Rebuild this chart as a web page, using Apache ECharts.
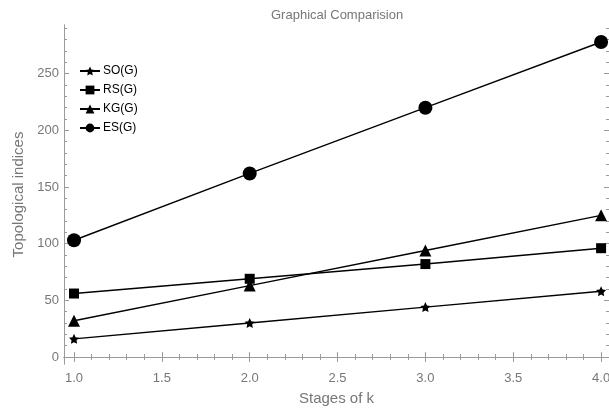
<!DOCTYPE html>
<html>
<head>
<meta charset="utf-8">
<script src="https://cdn.jsdelivr.net/npm/echarts@6/dist/echarts.min.js"></script>
<style>
  html, body { margin: 0; padding: 0; background: #fff; }
  #main { width: 609px; height: 409px; }
</style>
</head>
<body>
<div id="main"></div>
<script>
// 数据
var stages = [1, 2, 3, 4]
var soValues = [16, 30, 44, 58]
var rsValues = [56, 69, 82, 96]
var kgValues = [32, 63, 94, 125]
var esValues = [103, 162, 220, 278]

// 刻度
var xMajor = [1.0, 1.5, 2.0, 2.5, 3.0, 3.5, 4.0]
var xMinor = [1.1, 1.2, 1.3, 1.4, 1.6, 1.7, 1.8, 1.9, 2.1, 2.2, 2.3, 2.4, 2.6, 2.7, 2.8, 2.9,
  3.1, 3.2, 3.3, 3.4, 3.6, 3.7, 3.8, 3.9]
var yMajor = [0, 50, 100, 150, 200, 250]
var yMinor = [10, 20, 30, 40, 60, 70, 80, 90, 110, 120, 130, 140, 160, 170, 180, 190,
  210, 220, 230, 240, 260, 270, 280, 290]

var xMin = 0.943, xMax = 4.045
var yMin = -6.2, yMax = 293

var starPath = 'path://M0,-10 L2.94,-4.05 9.51,-3.09 4.76,1.55 5.88,8.09 0,5 -5.88,8.09 -4.76,1.55 -9.51,-3.09 -2.94,-4.05 Z'
var axisGray = '#9a9a9a'
var textGray = '#777'

function pairs(ys) {
  return stages.map(function (x, i) { return [x, ys[i]] })
}

// 坐标轴：主刻度 / 次刻度，四边框
function makeAxis(pos, vals, len, labels, min, max, extra) {
  var ax = {
    type: 'value',
    position: pos,
    min: min,
    max: max,
    axisLine: { show: true, lineStyle: { color: axisGray, width: 1 } },
    axisTick: { show: true, inside: true, length: len, customValues: vals, lineStyle: { color: axisGray } },
    axisLabel: labels ? {
      show: true, customValues: vals, color: textGray, fontSize: 13,
      margin: pos === 'bottom' ? 8 : 5,
      fontFamily: 'Liberation Sans',
      formatter: function (v) { return pos === 'bottom' ? v.toFixed(1) : String(v) }
    } : { show: false },
    splitLine: { show: false }
  }
  return Object.assign(ax, extra || {})
}

var myChart = echarts.init(document.getElementById('main'))
var option = {
  animation: false,
  title: {
    text: 'Graphical Comparision',
    left: 266, top: 4,
    textStyle: { color: textGray, fontSize: 13, fontWeight: 'normal', fontFamily: 'Liberation Sans' }
  },
  grid: { left: 64, right: 0, top: 25, bottom: 45, containLabel: false, outerBoundsMode: 'none' },
  legend: {
    orient: 'vertical',
    left: 74, top: 60,
    itemWidth: 20, itemHeight: 11, itemGap: 7,
    textStyle: { color: '#000', fontSize: 12, fontFamily: 'Liberation Sans', padding: [0, 0, 0, -2] },
    data: ['SO(G)', 'RS(G)', 'KG(G)', 'ES(G)']
  },
  xAxis: [
    makeAxis('bottom', xMajor, 5, true, xMin, xMax, {
      name: 'Stages of k', nameLocation: 'middle', nameGap: 27,
      nameTextStyle: { color: textGray, fontSize: 15, fontFamily: 'Liberation Sans' }
    }),
    makeAxis('bottom', xMinor, 3, false, xMin, xMax),
    makeAxis('top', xMajor, 5, false, xMin, xMax),
    makeAxis('top', xMinor, 3, false, xMin, xMax)
  ],
  yAxis: [
    makeAxis('left', yMajor, 5, true, yMin, yMax, {
      name: 'Topological indices', nameLocation: 'middle', nameGap: 37,
      nameTextStyle: { color: textGray, fontSize: 15, fontFamily: 'Liberation Sans' }
    }),
    makeAxis('left', yMinor, 3, false, yMin, yMax),
    makeAxis('right', yMajor, 5, false, yMin, yMax),
    makeAxis('right', yMinor, 3, false, yMin, yMax)
  ],
  series: [
    { name: 'SO(G)', type: 'line', data: pairs(soValues), symbol: starPath, symbolSize: 10 },
    { name: 'RS(G)', type: 'line', data: pairs(rsValues), symbol: 'rect', symbolSize: 10 },
    { name: 'KG(G)', type: 'line', data: pairs(kgValues), symbol: 'triangle', symbolSize: 12 },
    { name: 'ES(G)', type: 'line', data: pairs(esValues), symbol: 'circle', symbolSize: 14 }
  ].map(function (s) {
    s.xAxisIndex = 0
    s.yAxisIndex = 0
    s.showAllSymbol = true
    s.lineStyle = { color: '#000', width: 1.4 }
    s.itemStyle = { color: '#000', borderColor: '#000', borderWidth: 0 }
    s.emphasis = { disabled: true }
    return s
  })
}
myChart.setOption(option)
</script>
</body>
</html>
